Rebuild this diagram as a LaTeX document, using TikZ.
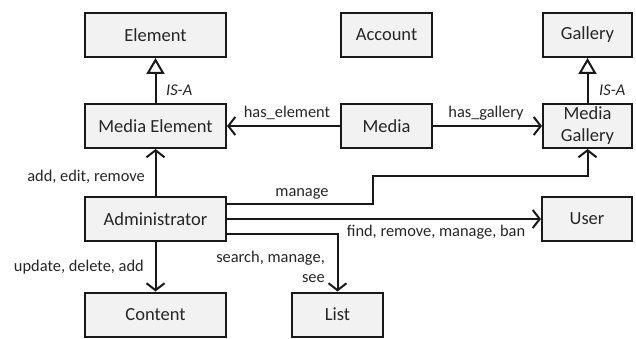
\documentclass[tikz,border=0pt]{standalone}
\usepackage{fontspec}
\setmainfont{Carlito}
\usetikzlibrary{arrows.meta}
\begin{document}
\begin{tikzpicture}[x=1pt,y=-1pt,
  box/.style={draw=black!90,line width=2pt,fill=black!5,minimum height=44pt,inner sep=0pt,
    font=\fontsize{18.5}{22}\selectfont,text=black!85,align=center},
  lbl/.style={font=\fontsize{16.4}{20}\selectfont,text=black!85,inner sep=0pt},
  conn/.style={draw=black!90,line width=2pt},
  barb/.style={-{Straight Barb[length=7pt,width=18pt]}},
  isa/.style={-{Triangle[open,length=16pt,width=18pt,fill=white]}}]
\useasboundingbox (0,0) rectangle (636,339);
\node[box,minimum width=141pt] (El) at (155.5,35) {Element};
\node[box,minimum width=91pt] (Acc) at (386.5,35) {Account};
\node[box,minimum width=89pt] (Gal) at (587.5,35) {Gallery};
\node[box,minimum width=141pt] (ME) at (155.5,126) {Media Element};
\node[box,minimum width=91pt] (Med) at (386.5,126) {Media};
\node[box,minimum width=89pt] (MG) at (587.5,126) {Media\\Gallery};
\node[box,minimum width=141pt] (Adm) at (155.5,219) {Administrator};
\node[box,minimum width=90pt] (Usr) at (587,219) {User};
\node[box,minimum width=141pt] (Con) at (155.5,314.5) {Content};
\node[box,minimum width=91pt] (Lst) at (337.5,314.5) {List};
\coordinate (m1) at (373,176);
\draw[conn,isa] (ME) -- (El);
\draw[conn,isa] (MG) -- (Gal);
\draw[conn,barb] (Med) -- (ME);
\draw[conn,barb] (Med) -- (MG);
\draw[conn,barb] (Adm) -- (ME);
\draw[conn,barb] (Adm) -- (Con);
\draw[conn,barb] (Adm) -- (Usr);
\draw[conn,barb] ([yshift=15pt]Adm.east) -| (m1) -| (MG.south);
\draw[conn,barb] ([yshift=-15pt]Adm.east) -| (Lst.north);
\node[lbl,anchor=west,font=\fontsize{16.4}{20}\selectfont\itshape] (l1) at (166,90) {IS-A};
\node[lbl,anchor=west,font=\fontsize{16.4}{20}\selectfont\itshape] (l2) at (599,90) {IS-A};
\node[lbl] (l3) at (287,113) {has\_element};
\node[lbl] (l4) at (486,113) {has\_gallery};
\node[lbl,anchor=east] (l5) at (145,177) {add, edit, remove};
\node[lbl] (l6) at (302,194) {manage};
\node[lbl] (l7) at (436,232) {find, remove, manage, ban};
\node[lbl,anchor=east,align=right,font=\fontsize{16.4}{20}\selectfont] (l8) at (325,267) {search, manage,\\see};
\node[lbl,anchor=east] (l9) at (144,267) {update, delete, add};
\end{tikzpicture}
\end{document}
